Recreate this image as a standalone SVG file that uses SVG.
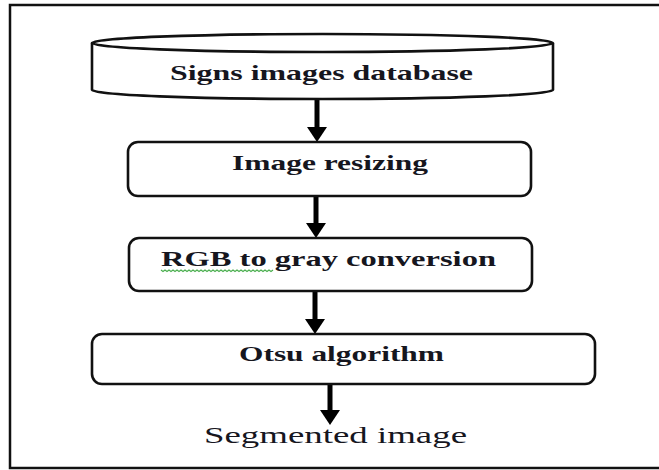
<svg xmlns="http://www.w3.org/2000/svg" width="659" height="470" viewBox="0 0 659 470">
  <defs>
    <style>
      .shape { fill: #ffffff; stroke: #111111; stroke-width: 2.6; }
      .frame { fill: none; stroke: #111111; stroke-width: 2.5; }
      .lbl { font-family: "Liberation Serif", "Times New Roman", serif; font-weight: bold; font-size: 21px; fill: #16161e; text-anchor: start; }
      .out { font-family: "Liberation Serif", "Times New Roman", serif; font-weight: normal; font-size: 24px; fill: #16161e; }
      .conn { stroke: #000000; stroke-width: 5; fill: none; }
      .head { fill: #000000; }
      .squig { fill: none; stroke: #4caf50; stroke-width: 1.2; }
    </style>
  </defs>
  <rect x="0" y="0" width="659" height="470" fill="#ffffff"/>
  <rect class="frame" x="10" y="5" width="662" height="463"/>

  <g id="connectors">
    <line class="conn" x1="317" y1="99" x2="317" y2="128"/>
    <polygon class="head" points="307,127 327,127 317,142"/>
    <line class="conn" x1="316" y1="196" x2="316" y2="224"/>
    <polygon class="head" points="306,223 326,223 316,238"/>
    <line class="conn" x1="315" y1="291" x2="315" y2="320"/>
    <polygon class="head" points="305,319 325,319 315,334"/>
    <line class="conn" x1="330" y1="384" x2="330" y2="411"/>
    <polygon class="head" points="320,410 340,410 330,425"/>
  </g>

  <g id="node-database">
    <path class="shape" d="M92,43 L92,90 A230.5,9 0 0 0 553,90 L553,43"/>
    <ellipse class="shape" cx="322.5" cy="43" rx="230.5" ry="9"/>
    <text class="lbl" x="170" y="80" textLength="303" lengthAdjust="spacingAndGlyphs">Signs images database</text>
  </g>

  <g id="node-resize">
    <rect class="shape" x="128" y="142" width="403" height="54" rx="10"/>
    <text class="lbl" x="232" y="170" textLength="196" lengthAdjust="spacingAndGlyphs">Image resizing</text>
  </g>

  <g id="node-gray">
    <rect class="shape" x="129" y="238" width="403" height="53" rx="10"/>
    <text class="lbl" x="161" y="266" textLength="335" lengthAdjust="spacingAndGlyphs">RGB  to gray conversion</text>
    <path class="squig" d="M161,270 l2,1.5 l2,-1.5 l2,1.5 l2,-1.5 l2,1.5 l2,-1.5 l2,1.5 l2,-1.5 l2,1.5 l2,-1.5 l2,1.5 l2,-1.5 l2,1.5 l2,-1.5 l2,1.5 l2,-1.5 l2,1.5 l2,-1.5 l2,1.5 l2,-1.5 l2,1.5 l2,-1.5 l2,1.5 l2,-1.5 l2,1.5 l2,-1.5 l2,1.5 l2,-1.5 l2,1.5 l2,-1.5 l2,1.5 l2,-1.5 l2,1.5 l2,-1.5 l2,1.5 l2,-1.5 l2,1.5 l2,-1.5 l2,1.5 l2,-1.5 l2,1.5 l2,-1.5 l2,1.5 l2,-1.5 l2,1.5 l2,-1.5 l2,1.5 l2,-1.5 l2,1.5 l2,-1.5 l2,1.5 l2,-1.5 l2,1.5 l2,-1.5 l2,1.5 l2,-1.5"/>
  </g>

  <g id="node-otsu">
    <rect class="shape" x="92" y="334" width="503" height="50" rx="10"/>
    <text class="lbl" x="239" y="361" textLength="205" lengthAdjust="spacingAndGlyphs">Otsu  algorithm</text>
  </g>

  <g id="node-output">
    <text class="out" x="204" y="443" textLength="263" lengthAdjust="spacingAndGlyphs">Segmented image</text>
  </g>
</svg>
